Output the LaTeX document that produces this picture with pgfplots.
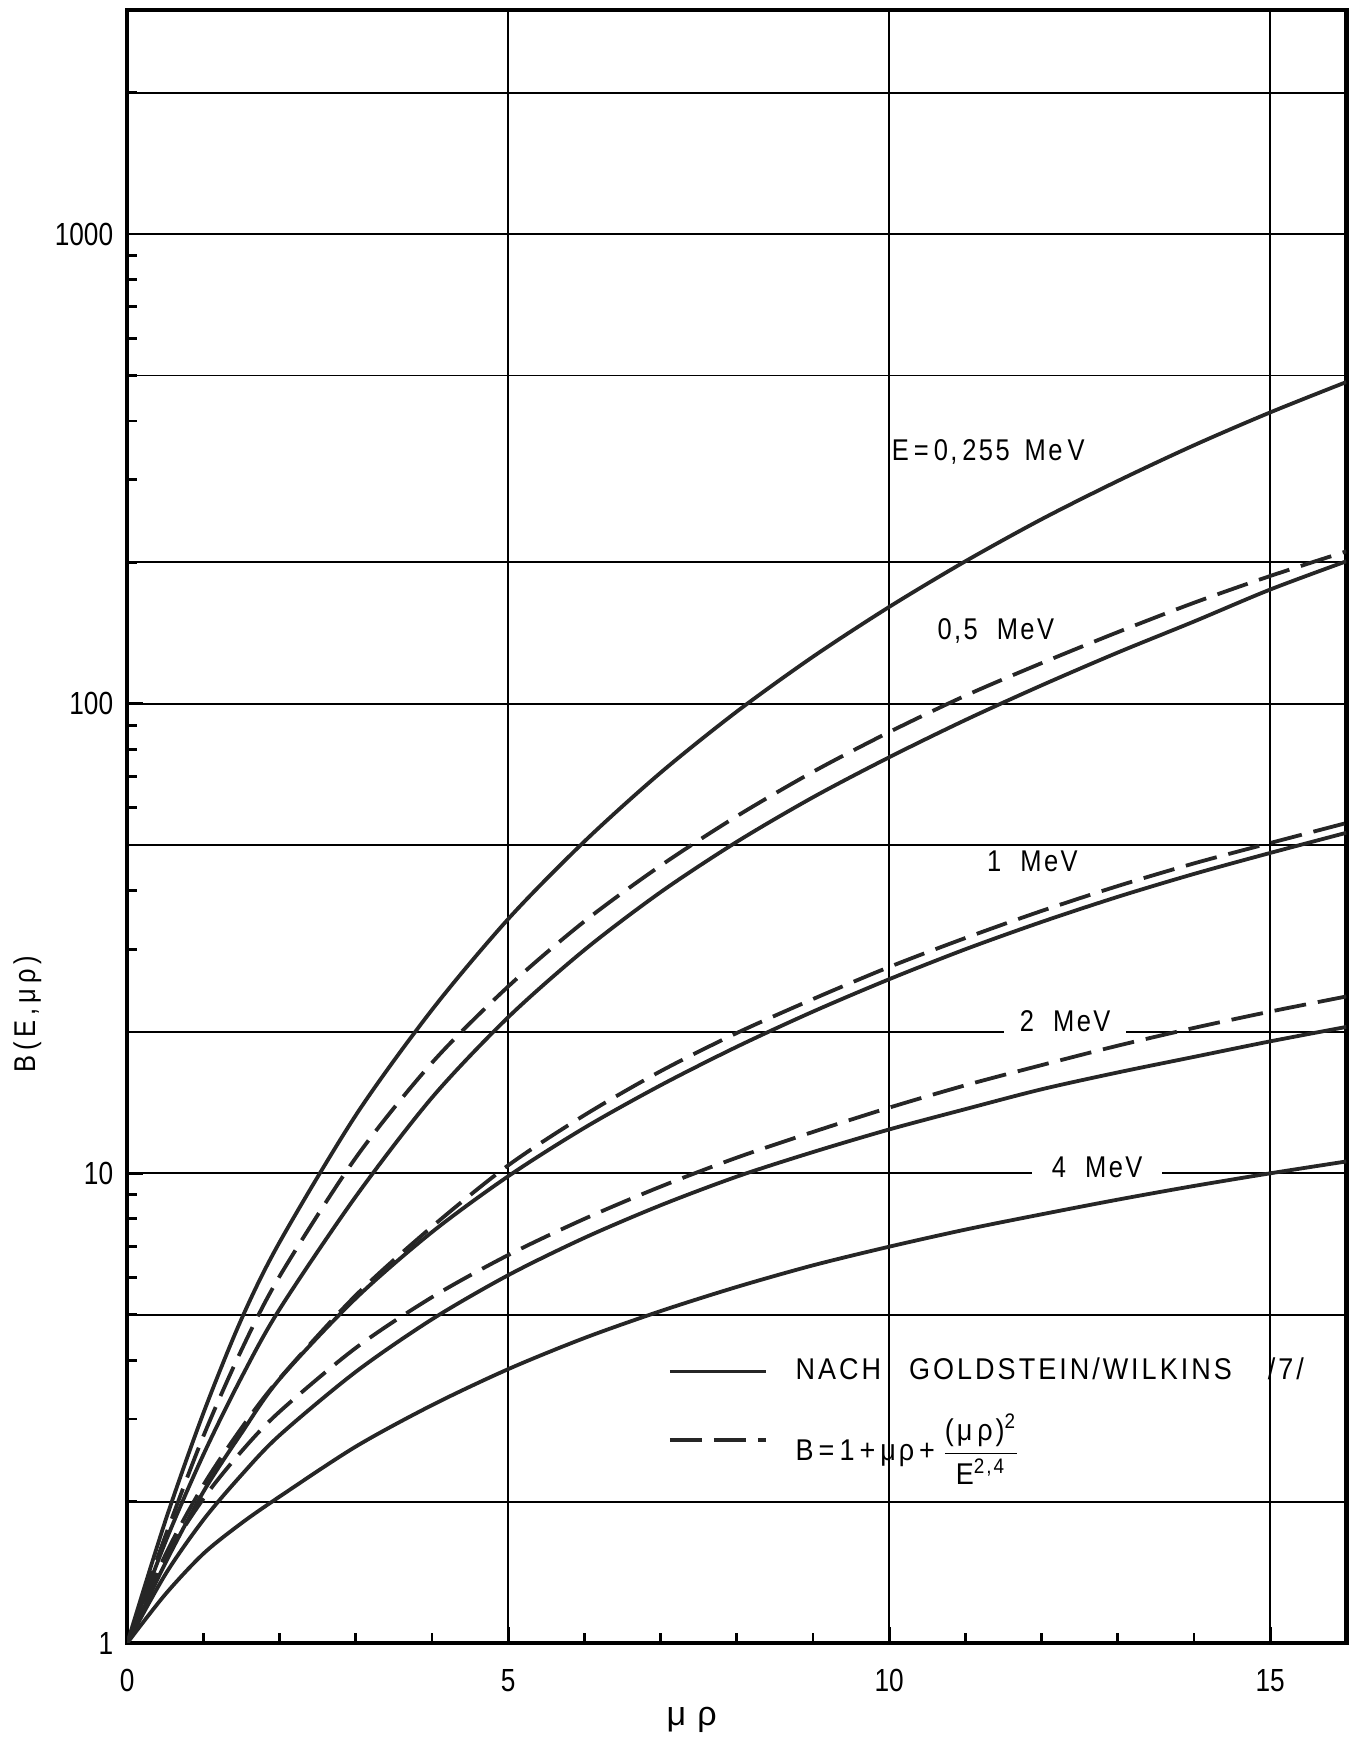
\documentclass[border=0pt]{standalone}
\usepackage{fontspec}
\setmainfont{Liberation Sans}
\newfontfamily\cond{Liberation Sans}[FakeStretch=0.82]
\newfontfamily\spaced{Liberation Sans}[FakeStretch=0.85, LetterSpace=8]
\newfontfamily\wide{Liberation Sans}[FakeStretch=0.9, LetterSpace=10]
\usepackage{amsmath}
\usepackage{pgfplots}
\pgfplotsset{compat=1.18}

\newcommand\lbl{\fontsize{7.5}{9}\selectfont\spaced}
\newcommand\leg{\fontsize{7.5}{9}\selectfont\wide}

\pgfplotsset{
  gw/.style={black!85, line width=0.95pt, smooth},
  ff/.style={black!85, line width=0.95pt, smooth, dash pattern=on 8pt off 3pt},
}

\begin{document}
\begin{tikzpicture}
\begin{axis}[
  scale only axis,
  width=304.75pt, height=408.25pt,
  ymode=log,
  xmin=0, xmax=16, ymin=1, ymax=3000,
  xtick={0,5,10,15},
  minor xtick={1,2,3,4,6,7,8,9,11,12,13,14},
  ytick={1,10,100,1000},
  yticklabels={1,10,100,1000},
  minor ytick={2,3,4,5,6,7,8,9,20,30,40,50,60,70,80,90,200,300,400,500,600,700,800,900,2000,3000},
  extra y ticks={2,5,20,50,200,500,2000},
  extra y tick labels={},
  extra y tick style={grid=major, major tick length=0pt},
  xmajorgrids, ymajorgrids,
  grid style={black, line width=0.45pt},
  tick align=inside,
  xtick pos=bottom, ytick pos=left,
  major tick length=4pt, minor tick length=2.5pt,
  tick style={black, line width=0.7pt},
  axis line style={black, line width=1.1pt},
  tick label style={font=\fontsize{8}{9}\selectfont\cond},
  xticklabel style={yshift=-3pt},
  /pgf/number format/assume math mode=true,
  clip mode=individual,
  legend cell align=left,
  legend style={draw=none, fill=none, font=\leg, at={(axis description cs:0.433,0.185)}, anchor=north west, row sep=3pt},
  legend image code/.code={\draw[#1] (0pt,0pt) -- (24pt,0pt);},
]

% Goldstein/Wilkins curves (solid)
\addplot[gw, forget plot] coordinates {
 (0,1) (0.5,1.82) (1,3.09) (1.5,4.90) (2,7.14) (3,13.3) (4,22.3) (5,34.8) (6,50.9) (7,71.3) (8,96.2)
 (9,125.9) (10,160.7) (11,201) (12,247) (13,298) (14,355) (15,417) (16,484)};
\addplot[gw, forget plot] coordinates {
 (0,1) (0.5,1.64) (1,2.52) (1.5,3.68) (2,5.14) (3,8.93) (4,14.5) (5,21.5) (6,29.9) (7,39.7) (8,50.8)
 (9,63.2) (10,76.9) (11,92.3) (12,109.4) (13,128.5) (14,149.6) (15,175) (16,201)};
\addplot[gw, forget plot] coordinates {
 (0,1) (0.5,1.48) (1,2.10) (1.5,2.80) (2,3.65) (3,5.42) (4,7.50) (5,9.86) (6,12.5) (7,15.4) (8,18.6)
 (9,22.1) (10,25.9) (11,30.0) (12,34.3) (13,38.8) (14,43.4) (15,48.1) (16,53.1)};
\addplot[gw, forget plot] coordinates {
 (0,1) (0.5,1.40) (1,1.83) (1.5,2.28) (2,2.77) (3,3.78) (4,4.89) (5,6.07) (6,7.29) (7,8.55) (8,9.84)
 (9,11.1) (10,12.4) (11,13.7) (12,15.1) (13,16.4) (14,17.7) (15,19.1) (16,20.5)};
\addplot[gw, forget plot] coordinates {
 (0,1) (0.5,1.27) (1,1.55) (1.5,1.80) (2,2.05) (3,2.62) (4,3.21) (5,3.83) (6,4.46) (7,5.09) (8,5.73)
 (9,6.37) (10,6.98) (11,7.59) (12,8.18) (13,8.79) (14,9.40) (15,10.0) (16,10.6)};

% fitted formula (dashed)
\addplot[ff, forget plot] coordinates {
 (0,1) (0.5,1.69) (1,2.76) (1.5,4.21) (2,6.04) (3,10.8) (4,17.2) (5,25) (6,34.4) (7,45.2) (8,57.6)
 (9,71.6) (10,87) (11,104) (12,122) (13,142) (14,164) (15,187) (16,211)};
\addplot[ff, forget plot] coordinates {
 (0,1) (0.5,1.54) (1,2.17) (1.5,2.87) (2,3.66) (3,5.5) (4,7.7) (5,10.4) (6,13.3) (7,16.5) (8,19.9)
 (9,23.5) (10,27.5) (11,31.7) (12,36.2) (13,40.9) (14,45.7) (15,50.5) (16,55.7)};
\addplot[ff, forget plot] coordinates {
 (0,1) (0.5,1.51) (1,2.03) (1.5,2.56) (2,3.11) (3,4.25) (4,5.45) (5,6.7) (6,8) (7,9.37) (8,10.8)
 (9,12.25) (10,13.8) (11,15.4) (12,17) (13,18.7) (14,20.4) (15,22.1) (16,23.8)};

\addlegendimage{gw}
\addlegendentry{\hspace{5pt}NACH\hspace{7pt}GOLDSTEIN/WILKINS\hspace{9pt}/7/}
\addlegendimage{ff}
\addlegendentry{\hspace{5pt}B\,=\,1\,+\,μρ\,+\,$\dfrac{\text{(μ\,ρ)}^{\text{2}}}{\text{E}^{\text{2,4}}}$}

% curve labels
\node[font=\lbl] at (axis cs:11.30,344) {E\,=\,0,\,255\enspace Me\,V};
\node[font=\lbl] at (axis cs:11.40,143) {0,5\ \ MeV};
\node[font=\lbl] at (axis cs:11.88,46.1) {1\ \ MeV};
\node[font=\lbl, anchor=base, fill=white, inner xsep=4pt, inner ysep=1pt] at (axis cs:12.31,20) {2\ \ MeV};
\node[font=\lbl, anchor=base, fill=white, inner xsep=5pt, inner ysep=1pt] at (axis cs:12.73,9.8) {4\ \ MeV};

% axis labels
\node[font=\lbl, rotate=90] at (rel axis cs:-0.082,0.385) {B\,(\,E\,,\,μ\,ρ\,)};
\node[font=\fontsize{8.5}{10}\selectfont] at (rel axis cs:0.463,-0.047) {μ\,\,ρ};

% page extent
\path (rel axis cs:-0.1001,-0.0643) rectangle (rel axis cs:1.0033,1.0061);
\end{axis}
\end{tikzpicture}
\end{document}
